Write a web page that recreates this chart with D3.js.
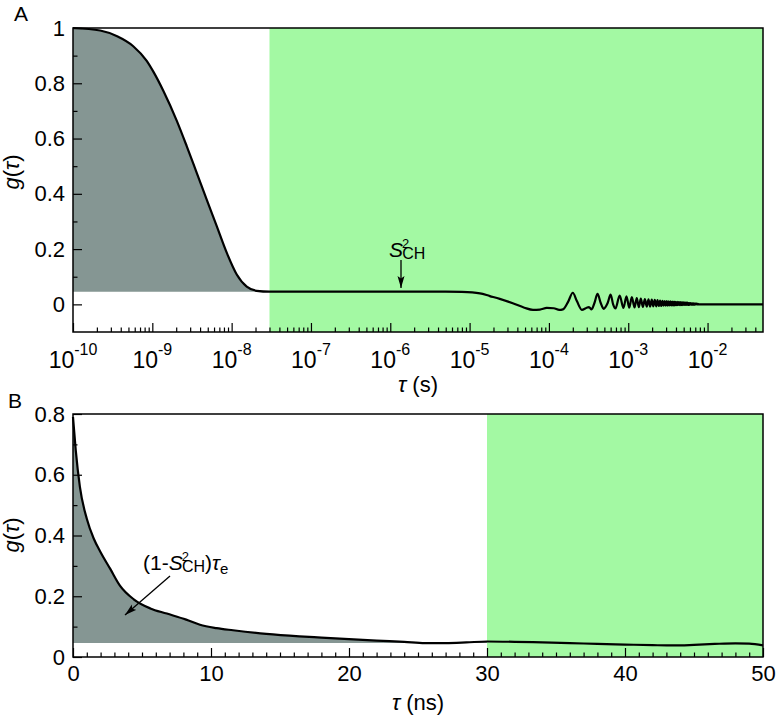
<!DOCTYPE html>
<html lang="en">
<head>
<meta charset="UTF-8">
<title>g(tau) correlation functions</title>
<script src="https://cdnjs.cloudflare.com/ajax/libs/d3/7.8.5/d3.min.js"></script>
<style>
  body { margin: 0; background: #fff; }
  svg { display: block; font-family: "Liberation Sans", Arial, sans-serif; }
</style>
</head>
<body>
<div id="chart"></div>
<script>
// ---- data ----
// panel A: decay + plateau (tau in s)
const tauA = [1e-10, 2.2e-10, 3.6e-10, 5.75e-10, 8.5e-10, 1.03e-9, 1.38e-9, 2.03e-9, 2.72e-9,
  3.63e-9, 4.85e-9, 6.49e-9, 8.67e-9, 1.16e-8, 1.55e-8, 2.07e-8, 3e-8, 1e-7, 1e-6, 5e-6, 8e-6,
  1.35e-5, 1.8e-5, 2.4e-5, 3.5e-5, 4.9e-5, 6.3e-5, 7.7e-5, 9.4e-5, 1.15e-4, 1.35e-4, 1.5e-4];
const gA = [1.0, 0.991, 0.970, 0.934, 0.881, 0.842, 0.772, 0.665, 0.572,
  0.476, 0.379, 0.283, 0.187, 0.108, 0.064, 0.049, 0.046, 0.046, 0.046, 0.046, 0.045,
  0.040, 0.030, 0.020, 0.004, -0.012, -0.020, -0.019, -0.013, -0.014, -0.020, -0.018];
// panel A: oscillating tail (peaks and troughs)
const tauOsc = [1.75e-4, 2.0e-4, 2.25e-4, 2.6e-4, 3.0e-4, 3.2e-4, 3.45e-4, 3.75e-4, 4.1e-4, 4.5e-4,
  4.9e-4, 5.5e-4, 6.0e-4, 6.45e-4, 6.9e-4, 7.8e-4, 8.7e-4, 9.5e-4, 1.03e-3, 1.11e-3, 1.2e-3,
  1.28e-3, 1.36e-3, 1.44e-3, 1.53e-3, 1.62e-3, 1.71e-3, 1.80e-3, 1.89e-3, 1.98e-3, 2.07e-3,
  2.16e-3, 2.25e-3, 2.34e-3, 2.43e-3, 2.52e-3, 2.61e-3, 2.70e-3, 2.79e-3, 2.88e-3, 2.97e-3,
  3.06e-3, 3.15e-3, 3.24e-3, 3.33e-3, 3.42e-3, 3.51e-3, 3.60e-3, 3.69e-3, 3.78e-3, 3.87e-3,
  3.96e-3, 4.05e-3, 4.14e-3, 4.23e-3, 4.32e-3, 4.41e-3, 4.50e-3, 4.59e-3, 4.68e-3, 4.77e-3,
  4.86e-3, 4.95e-3, 5.04e-3, 5.13e-3, 5.22e-3, 5.31e-3, 5.40e-3, 5.49e-3, 5.58e-3, 5.67e-3,
  5.76e-3, 5.85e-3, 5.94e-3, 6.03e-3, 6.12e-3, 6.21e-3, 6.30e-3, 6.39e-3, 6.48e-3, 6.57e-3,
  6.66e-3, 6.75e-3, 6.84e-3, 6.93e-3, 7.02e-3, 7.11e-3, 7.20e-3, 7.29e-3, 7.38e-3, 7.47e-3,
  7.56e-3, 7.8e-3, 1e-2, 2e-2, 5e-2];
const gOsc = [0.010, 0.042, 0.012, -0.020, -0.012, -0.010, -0.018, 0.005, 0.038, 0.005,
  -0.016, 0.005, 0.035, 0.000, -0.015, 0.032, -0.013, 0.029, -0.012, 0.026, -0.011,
  0.023, -0.010, 0.021, -0.009, 0.019, -0.008, 0.018, -0.008, 0.017, -0.007,
  0.016, -0.007, 0.015, -0.006, 0.014, -0.006, 0.013, -0.005, 0.012, -0.005,
  0.012, -0.005, 0.011, -0.004, 0.011, -0.004, 0.010, -0.004, 0.010, -0.004,
  0.009, -0.003, 0.009, -0.003, 0.008, -0.003, 0.008, -0.003, 0.007, -0.003,
  0.007, -0.002, 0.007, -0.002, 0.006, -0.002, 0.006, -0.002, 0.006, -0.002,
  0.005, -0.002, 0.005, -0.001, 0.005, -0.001, 0.004, -0.001, 0.004, -0.001,
  0.004, -0.001, 0.003, -0.001, 0.003, 0.000, 0.003, 0.000, 0.002, 0.000,
  0.002, 0.000, 0.000, 0.000, 0.000];
// panel B (tau in ns)
const tauB = [0, 0.2, 0.5, 1, 1.5, 2, 2.7, 3.4, 4.4, 5.6, 6.8, 8.2, 9.2, 10.4, 11.6, 14, 16.4, 18,
  20, 22, 24, 25.5, 27, 28.5, 30, 32, 34, 36, 38, 40, 42, 43.5, 45, 46.5, 48, 49, 50];
const gB = [0.79, 0.68, 0.56, 0.455, 0.39, 0.345, 0.29, 0.235, 0.19, 0.16, 0.143, 0.123, 0.106,
  0.095, 0.088, 0.076, 0.068, 0.064, 0.059, 0.054, 0.05, 0.046, 0.046, 0.048, 0.051, 0.05,
  0.048, 0.046, 0.043, 0.041, 0.039, 0.038, 0.040, 0.043, 0.045, 0.044, 0.038];

const s2 = 0.046;               // plateau S^2_CH
const greenStartA = 3e-8;       // s
const greenStartB = 30;         // ns

const decadesA = [1e-10, 1e-9, 1e-8, 1e-7, 1e-6, 1e-5, 1e-4, 1e-3, 1e-2];
const expLabelsA = ["-10", "-9", "-8", "-7", "-6", "-5", "-4", "-3", "-2"];
const yTicksA = [0, 0.2, 0.4, 0.6, 0.8, 1];
const yLabelsA = ["0", "0.2", "0.4", "0.6", "0.8", "1"];
const xTicksB = [0, 10, 20, 30, 40, 50];
const yTicksB = [0, 0.2, 0.4, 0.6, 0.8];
const yLabelsB = ["0", "0.2", "0.4", "0.6", "0.8"];

// ---- layout ----
const W = 776, H = 716;
const GREEN = "#a3f9a3", GREY = "#859693";
const left = 73, right = 763;

const svg = d3.select("#chart").append("svg").attr("width", W).attr("height", H);

svg.append("defs").append("marker")
  .attr("id", "arr").attr("markerUnits", "userSpaceOnUse")
  .attr("viewBox", "0 0 12 8").attr("refX", 12).attr("refY", 4)
  .attr("markerWidth", 12).attr("markerHeight", 8).attr("orient", "auto")
  .append("path").attr("d", "M0,0.5 L12,4 L0,7.5 L2.5,4 Z").attr("fill", "#000");

function styleAxis(g) {
  g.select(".domain").remove();
  g.selectAll("line").attr("stroke", "#000").attr("stroke-width", 1.2);
  g.selectAll("text").attr("font-size", 22).attr("fill", "#000")
    .attr("font-family", "'Liberation Sans', Arial, sans-serif");
}

// ================= Panel A =================
const xA = d3.scaleLog().domain([1e-10, 0.05]).range([left, right]);
const yA = d3.scaleLinear().domain([-0.1, 1]).range([332, 28]);

svg.append("rect")
  .attr("x", xA(greenStartA)).attr("y", yA(1))
  .attr("width", xA(0.05) - xA(greenStartA)).attr("height", yA(-0.1) - yA(1))
  .attr("fill", GREEN);

const ptsA = tauA.map((t, i) => [t, gA[i]]);
const ptsOsc = tauOsc.map((t, i) => [t, gOsc[i]]);

svg.append("path")
  .datum(ptsA.filter(d => d[0] <= greenStartA))
  .attr("fill", GREY)
  .attr("d", d3.area().curve(d3.curveMonotoneX)
    .x(d => xA(d[0])).y0(yA(s2)).y1(d => yA(d[1])));

svg.append("path")
  .datum(ptsA.concat(ptsOsc))
  .attr("fill", "none").attr("stroke", "#000").attr("stroke-width", 2.2)
  .attr("stroke-linejoin", "round")
  .attr("d", d3.line().curve(d3.curveMonotoneX).x(d => xA(d[0])).y(d => yA(d[1])));

// minor log ticks
const minorA = [];
decadesA.forEach(d => { for (let k = 2; k <= 9; k++) if (d * k < 0.05) minorA.push(d * k); });

svg.append("g").attr("transform", `translate(0,${yA(-0.1)})`)
  .call(d3.axisBottom(xA).tickValues(minorA).tickSize(-4.5).tickFormat(""))
  .call(styleAxis);
svg.append("g").attr("transform", `translate(0,${yA(-0.1)})`)
  .call(d3.axisBottom(xA).tickValues(decadesA).tickSize(-9).tickFormat(""))
  .call(styleAxis);

const labA = svg.append("g").attr("font-size", 23);
decadesA.forEach((d, i) => {
  const t = labA.append("text").attr("x", xA(d)).attr("y", 368).attr("text-anchor", "middle");
  t.append("tspan").text("10");
  t.append("tspan").attr("font-size", 16).attr("dy", -13).text(expLabelsA[i]);
});

svg.append("g").attr("transform", `translate(${left},0)`)
  .call(d3.axisLeft(yA).tickValues([0.1, 0.3, 0.5, 0.7, 0.9]).tickSize(-4.5).tickFormat(""))
  .call(styleAxis);
svg.append("g").attr("transform", `translate(${left},0)`)
  .call(d3.axisLeft(yA).tickValues(yTicksA).tickSize(-9).tickPadding(8)
    .tickFormat((d, i) => yLabelsA[i]))
  .call(styleAxis);

svg.append("rect").attr("x", left).attr("y", yA(1))
  .attr("width", right - left).attr("height", yA(-0.1) - yA(1))
  .attr("fill", "none").attr("stroke", "#000").attr("stroke-width", 1.5);

// axis titles A
const xtA = svg.append("text").attr("x", (left + right) / 2).attr("y", 392)
  .attr("text-anchor", "middle").attr("font-size", 22);
xtA.append("tspan").attr("font-style", "italic").text("τ");
xtA.append("tspan").text(" (s)");

function yTitle(cy) {
  const t = svg.append("text").attr("transform", `translate(19,${cy}) rotate(-90)`)
    .attr("text-anchor", "middle").attr("font-size", 22);
  t.append("tspan").attr("font-style", "italic").text("g");
  t.append("tspan").text("(");
  t.append("tspan").attr("font-style", "italic").text("τ");
  t.append("tspan").text(")");
}
yTitle(172);

svg.append("text").attr("x", 14).attr("y", 21).attr("font-size", 21).text("A");

// S2CH annotation
const sA = svg.append("text").attr("x", 389).attr("y", 257).attr("font-size", 21);
sA.append("tspan").attr("font-style", "italic").text("S");
sA.append("tspan").attr("font-size", 13).attr("dx", -1).attr("dy", -9).text("2");
sA.append("tspan").attr("font-size", 16).attr("dx", -7).attr("dy", 11).text("CH");

svg.append("line").attr("x1", 401).attr("y1", 260).attr("x2", 401).attr("y2", 288)
  .attr("stroke", "#000").attr("stroke-width", 1.3).attr("marker-end", "url(#arr)");

// ================= Panel B =================
const xB = d3.scaleLinear().domain([0, 50]).range([left, right]);
const yB = d3.scaleLinear().domain([0, 0.8]).range([657, 414]);

svg.append("rect")
  .attr("x", xB(greenStartB)).attr("y", yB(0.8))
  .attr("width", xB(50) - xB(greenStartB)).attr("height", yB(0) - yB(0.8))
  .attr("fill", GREEN);

const ptsB = tauB.map((t, i) => [t, gB[i]]);

svg.append("path")
  .datum(ptsB.filter(d => d[0] <= greenStartB))
  .attr("fill", GREY)
  .attr("d", d3.area().curve(d3.curveMonotoneX)
    .x(d => xB(d[0])).y0(yB(s2)).y1(d => yB(Math.max(d[1], s2))));

svg.append("path")
  .datum(ptsB)
  .attr("fill", "none").attr("stroke", "#000").attr("stroke-width", 2.2)
  .attr("d", d3.line().curve(d3.curveMonotoneX).x(d => xB(d[0])).y(d => yB(d[1])));

svg.append("g").attr("transform", `translate(0,${yB(0)})`)
  .call(d3.axisBottom(xB).tickValues(d3.range(0, 51, 1).filter(v => v % 10 !== 0))
    .tickSize(-4.5).tickFormat(""))
  .call(styleAxis);
svg.append("g").attr("transform", `translate(0,${yB(0)})`)
  .call(d3.axisBottom(xB).tickValues(xTicksB).tickSize(-9).tickPadding(8).tickFormat(d3.format("d")))
  .call(styleAxis);

svg.append("g").attr("transform", `translate(${left},0)`)
  .call(d3.axisLeft(yB).tickValues([0.1, 0.3, 0.5, 0.7]).tickSize(-4.5).tickFormat(""))
  .call(styleAxis);
svg.append("g").attr("transform", `translate(${left},0)`)
  .call(d3.axisLeft(yB).tickValues(yTicksB).tickSize(-9).tickPadding(8)
    .tickFormat((d, i) => yLabelsB[i]))
  .call(styleAxis);

svg.append("rect").attr("x", left).attr("y", yB(0.8))
  .attr("width", right - left).attr("height", yB(0) - yB(0.8))
  .attr("fill", "none").attr("stroke", "#000").attr("stroke-width", 1.5);

const xtB = svg.append("text").attr("x", (left + right) / 2).attr("y", 710)
  .attr("text-anchor", "middle").attr("font-size", 22);
xtB.append("tspan").attr("font-style", "italic").text("τ");
xtB.append("tspan").text(" (ns)");

yTitle(535);

svg.append("text").attr("x", 8).attr("y", 408).attr("font-size", 21).text("B");

// (1-S2CH)tau_e annotation
const sB = svg.append("text").attr("x", 143).attr("y", 570).attr("font-size", 21);
sB.append("tspan").text("(1-");
sB.append("tspan").attr("font-style", "italic").text("S");
sB.append("tspan").attr("font-size", 13).attr("dx", -1).attr("dy", -9).text("2");
sB.append("tspan").attr("font-size", 16).attr("dx", -7).attr("dy", 11).text("CH");
sB.append("tspan").attr("dy", -2).text(")");
sB.append("tspan").attr("font-style", "italic").text("τ");
sB.append("tspan").attr("font-size", 15).attr("dy", 4).text("e");

svg.append("line").attr("x1", 170).attr("y1", 576).attr("x2", 125).attr("y2", 615)
  .attr("stroke", "#000").attr("stroke-width", 1.3).attr("marker-end", "url(#arr)");
</script>
</body>
</html>
